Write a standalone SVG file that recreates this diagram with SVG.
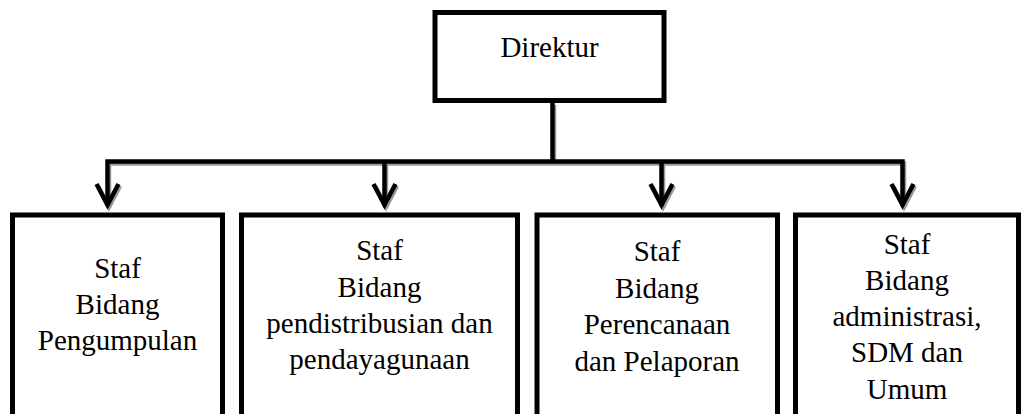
<svg xmlns="http://www.w3.org/2000/svg" width="1021" height="414" viewBox="0 0 1021 414">
<style>
.box{fill:#fff;stroke:#000;stroke-width:5}
.t{font-family:"Liberation Serif","Times New Roman",serif;font-size:29px;fill:#000;text-anchor:middle}
.ln{fill:none;stroke:#000;stroke-width:4.5;stroke-linejoin:miter}
.sh{fill:none;stroke:#9a9a9a;stroke-width:4.5;stroke-linejoin:miter}
</style>
<defs>
<path id="chev" d="M-11,-21 L0,0 L11,-21"/>
</defs>
<rect width="1021" height="414" fill="#fff"/>
<g id="connectors">
<g transform="translate(1.5,2)">
<path class="sh" d="M107.5,206 V161.5 H902.5 V206 M384.5,163 V206 M661.5,163 V206 M552.5,103 V161"/>
<use href="#chev" class="sh" x="107.5" y="205"/>
<use href="#chev" class="sh" x="384.5" y="205"/>
<use href="#chev" class="sh" x="661.5" y="205"/>
<use href="#chev" class="sh" x="902.5" y="205"/>
</g>
<path class="ln" d="M107.5,206 V161.5 H902.5 V206 M384.5,163 V206 M661.5,163 V206 M552.5,103 V161"/>
<use href="#chev" class="ln" x="107.5" y="205"/>
<use href="#chev" class="ln" x="384.5" y="205"/>
<use href="#chev" class="ln" x="661.5" y="205"/>
<use href="#chev" class="ln" x="902.5" y="205"/>
</g>
<g id="direktur">
<rect class="box" x="435" y="12.5" width="229" height="88"/>
<text class="t" x="549.5" y="56.5">Direktur</text>
</g>
<g id="pengumpulan">
<rect class="box" x="12.5" y="215" width="210" height="230"/>
<text class="t" x="117.5" y="278">Staf</text>
<text class="t" x="117.5" y="314">Bidang</text>
<text class="t" x="117.5" y="350">Pengumpulan</text>
</g>
<g id="pendistribusian">
<rect class="box" x="241.5" y="215" width="276" height="230"/>
<text class="t" x="379.5" y="260">Staf</text>
<text class="t" x="379.5" y="296.5">Bidang</text>
<text class="t" x="379.5" y="332.5">pendistribusian dan</text>
<text class="t" x="379.5" y="368.5">pendayagunaan</text>
</g>
<g id="perencanaan">
<rect class="box" x="537" y="215" width="240.5" height="230"/>
<text class="t" x="657" y="261">Staf</text>
<text class="t" x="657" y="297.5">Bidang</text>
<text class="t" x="657" y="333.5">Perencanaan</text>
<text class="t" x="657" y="370.5">dan Pelaporan</text>
</g>
<g id="administrasi">
<rect class="box" x="795.5" y="215" width="223" height="230"/>
<text class="t" x="907" y="253.5">Staf</text>
<text class="t" x="907" y="290">Bidang</text>
<text class="t" x="907" y="325.5">administrasi,</text>
<text class="t" x="907" y="362">SDM dan</text>
<text class="t" x="907" y="398.5">Umum</text>
</g>
</svg>
